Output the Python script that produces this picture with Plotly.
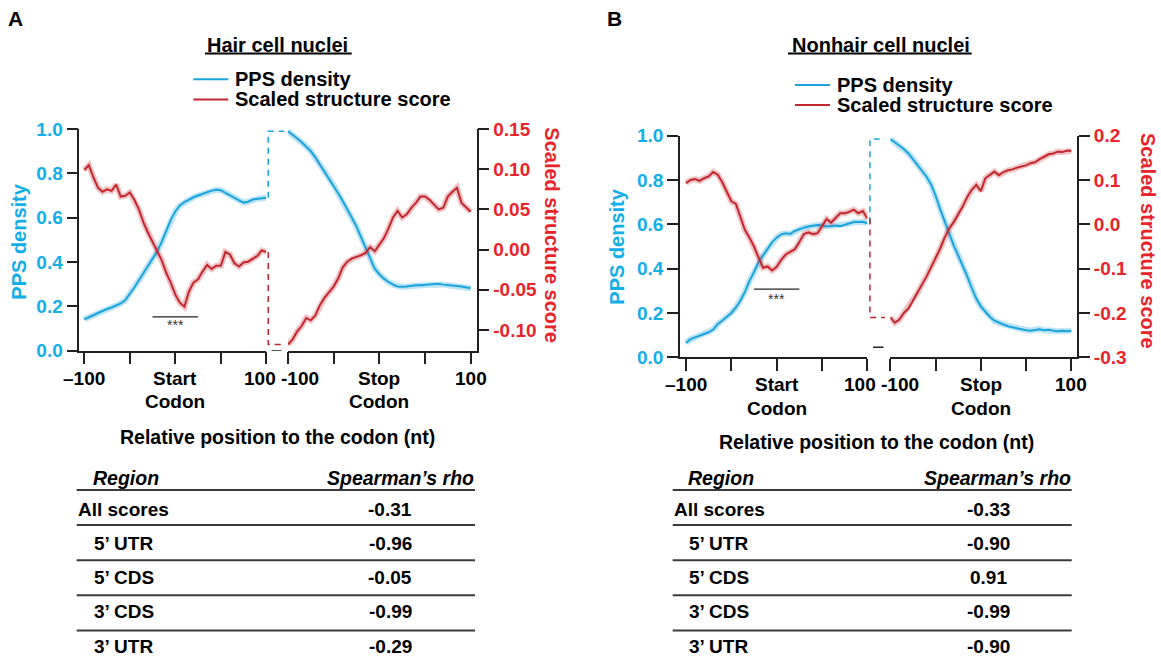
import plotly.graph_objects as go

W, H = 1161, 657
FONT = "Liberation Sans, Arial, Helvetica, sans-serif"
BLUE_LINE = "#1ba3dd"
RED_LINE = "#c4262e"
BLUE_TXT = "#12aee8"
RED_TXT = "#e8232b"
AX = "#231f20"

# ---------------- data ----------------
positions = list(range(-100, 101, 5))

# Panel A - hair cell nuclei
a_start_pps = [0.142, 0.150, 0.160, 0.170, 0.180, 0.188, 0.195, 0.203, 0.213, 0.228, 0.255,
               0.285, 0.318, 0.350, 0.382, 0.412, 0.447, 0.490, 0.540, 0.590, 0.628,
               0.655, 0.670, 0.682, 0.692, 0.700, 0.708, 0.716, 0.722, 0.726, 0.724,
               0.712, 0.700, 0.688, 0.678, 0.668, 0.672, 0.682, 0.685, 0.688, 0.690]
a_start_score = [0.099, 0.105, 0.090, 0.077, 0.072, 0.075, 0.073, 0.081, 0.066, 0.067, 0.071,
                 0.062, 0.050, 0.034, 0.021, 0.009, -0.002, -0.013, -0.029, -0.041, -0.056,
                 -0.066, -0.071, -0.052, -0.041, -0.037, -0.027, -0.019, -0.024, -0.020, -0.020,
                 -0.003, -0.006, -0.017, -0.021, -0.016, -0.015, -0.011, -0.008, -0.001, -0.003]
a_stop_pps = [0.990, 0.975, 0.958, 0.940, 0.922, 0.900, 0.872, 0.840, 0.808, 0.778, 0.745,
              0.710, 0.675, 0.640, 0.600, 0.560, 0.512, 0.460, 0.410, 0.370, 0.345,
              0.325, 0.310, 0.298, 0.290, 0.288, 0.290, 0.293, 0.295, 0.295, 0.296,
              0.298, 0.300, 0.302, 0.298, 0.295, 0.293, 0.292, 0.290, 0.285, 0.282]
a_stop_score = [-0.118, -0.112, -0.102, -0.095, -0.085, -0.088, -0.082, -0.069, -0.060, -0.053, -0.046,
                -0.036, -0.022, -0.015, -0.011, -0.009, -0.007, -0.004, 0.003, -0.002, 0.006,
                0.014, 0.026, 0.040, 0.048, 0.040, 0.044, 0.052, 0.058, 0.066, 0.066,
                0.062, 0.056, 0.050, 0.052, 0.066, 0.072, 0.077, 0.058, 0.052, 0.047]

# Panel B - nonhair cell nuclei
b_start_pps = [0.065, 0.082, 0.090, 0.097, 0.105, 0.113, 0.125, 0.150, 0.165, 0.183, 0.200,
               0.225, 0.255, 0.295, 0.345, 0.385, 0.430, 0.460, 0.490, 0.520, 0.540,
               0.555, 0.560, 0.557, 0.570, 0.578, 0.585, 0.590, 0.592, 0.597, 0.595,
               0.590, 0.592, 0.595, 0.592, 0.598, 0.603, 0.610, 0.610, 0.612, 0.605]
b_start_score = [0.093, 0.100, 0.102, 0.098, 0.104, 0.108, 0.118, 0.112, 0.095, 0.072, 0.052,
                 0.046, 0.016, -0.013, -0.030, -0.050, -0.075, -0.098, -0.095, -0.104, -0.096,
                 -0.080, -0.068, -0.062, -0.056, -0.040, -0.022, -0.018, -0.022, -0.020, -0.005,
                 0.012, 0.004, 0.014, 0.025, 0.025, 0.028, 0.033, 0.025, 0.030, 0.013]
b_stop_pps = [0.985, 0.970, 0.955, 0.940, 0.920, 0.895, 0.870, 0.845, 0.815, 0.780, 0.730,
              0.670, 0.615, 0.560, 0.505, 0.460, 0.415, 0.365, 0.312, 0.265, 0.230,
              0.205, 0.182, 0.165, 0.155, 0.148, 0.140, 0.135, 0.132, 0.128, 0.122,
              0.120, 0.124, 0.127, 0.122, 0.124, 0.120, 0.118, 0.120, 0.118, 0.120]
b_stop_score = [-0.210, -0.222, -0.215, -0.200, -0.190, -0.172, -0.155, -0.136, -0.118, -0.097, -0.077,
                -0.055, -0.030, -0.010, 0.005, 0.022, 0.040, 0.062, 0.078, 0.089, 0.075,
                0.104, 0.112, 0.119, 0.111, 0.118, 0.122, 0.124, 0.128, 0.131, 0.133,
                0.138, 0.140, 0.147, 0.152, 0.158, 0.160, 0.164, 0.163, 0.166, 0.166]

pps_ticks = [0.0, 0.2, 0.4, 0.6, 0.8, 1.0]
a_score_ticks = [-0.10, -0.05, 0.00, 0.05, 0.10, 0.15]
b_score_ticks = [-0.3, -0.2, -0.1, 0.0, 0.1, 0.2]
x_ticks = [-100, -50, 0, 50, 100]
start_labels = ["\u2013100", "Start", "100"]
stop_labels = ["-100", "Stop", "100"]
codon_word = "Codon"

sig_span = [-25, 25]
a_sig = [0.153, 0.116]   # bar level, star level (PPS units)
b_sig = [0.308, 0.262]

regions = ["All scores", "5\u2019 UTR", "5\u2019 CDS", "3\u2019 CDS", "3\u2019 UTR"]
a_rho = [-0.31, -0.96, -0.05, -0.99, -0.29]
b_rho = [-0.33, -0.90, 0.91, -0.99, -0.90]

# ---------------- layout geometry (pixels) ----------------
panels = [
    dict(letter="A", title="Hair cell nuclei", letter_xy=(15, 19),
         start_pps=a_start_pps, start_score=a_start_score, stop_pps=a_stop_pps, stop_score=a_stop_score,
         score_ticks=a_score_ticks, score_fmt="{:.2f}", score_range=[-0.1257, 0.15],
         start_dom=(79.3, 266.3), start_rng=[-105.5, 100], stop_dom=(287.9, 476.7), stop_rng=[-100, 106.6],
         y_dom=(129.0, 350.7), sig=a_sig, gap_x=(0.09, 0.82, 0.72), brk_y=0.0, inner_shift=(-6, 12),
         title_xy=(277.5, 45), underline=(205, 351.7, 53.5),
         leg_line=(193.3, 228.3), leg_text_x=234, leg_y=(79.3, 99.5),
         ylab_l=(19, 241.7), ylab_r=(551.7, 235),
         xlab=(277.5, 436.7), table_x=(76.7, 475), region_x=91.7, indent_x=93.3, val_x=390, rho=a_rho),
    dict(letter="B", title="Nonhair cell nuclei", letter_xy=(614, 19),
         start_pps=b_start_pps, start_score=b_start_score, stop_pps=b_stop_pps, stop_score=b_stop_score,
         score_ticks=b_score_ticks, score_fmt="{:.1f}", score_range=[-0.3, 0.2],
         start_dom=(680.0, 867.4), start_rng=[-106.6, 100], stop_dom=(890.3, 1077.3), stop_rng=[-100, 106.6],
         y_dom=(135.7, 357.3), sig=b_sig, gap_x=(0.11, 0.77, 0.77), brk_y=0.045, inner_shift=(-7, 10),
         title_xy=(881, 45), underline=(788, 971.7, 53.5),
         leg_line=(795, 830), leg_text_x=836, leg_y=(85, 105),
         ylab_l=(617, 246.7), ylab_r=(1148.7, 240.7),
         xlab=(876.7, 441.7), table_x=(672.7, 1071.7), region_x=686.7, indent_x=688.3, val_x=988.3, rho=b_rho),
]


def fx(px):
    return px / W


def fy(py):
    return 1 - py / H


def xn(i):
    return "xaxis" if i == 1 else f"xaxis{i}"


def yn(i):
    return "yaxis" if i == 1 else f"yaxis{i}"


def xr(i):
    return "x" if i == 1 else f"x{i}"


def yr(i):
    return "y" if i == 1 else f"y{i}"


fig = go.Figure()
layout = {}
shapes = []
annotations = []

tick_font_b = dict(family=FONT, size=19, color=BLUE_TXT, weight="bold")
tick_font_r = dict(family=FONT, size=19, color=RED_TXT, weight="bold")


def ann(text, x, y, size=20, color="black", xanchor="center", yanchor="middle", angle=0, weight="bold",
        style="normal"):
    annotations.append(dict(text=text, x=fx(x), y=fy(y), xref="paper", yref="paper", showarrow=False,
                            xanchor=xanchor, yanchor=yanchor, textangle=angle, borderpad=0,
                            font=dict(family=FONT, size=size, color=color, weight=weight, style=style)))


def add_line(xaxis, yaxis, xs, ys, color, band=None, width=2.0, dash=None):
    if band:
        fig.add_trace(go.Scatter(x=xs, y=ys, xaxis=xaxis, yaxis=yaxis, mode="lines",
                                 line=dict(color=band, width=6), hoverinfo="skip", showlegend=False))
    fig.add_trace(go.Scatter(x=xs, y=ys, xaxis=xaxis, yaxis=yaxis, mode="lines",
                             line=dict(color=color, width=width, dash=dash), hoverinfo="skip", showlegend=False))


def x_label(text, xaxis, xval, py, shift=0):
    annotations.append(dict(text=text, x=xval, y=fy(py), xref=xaxis, yref="paper", showarrow=False,
                            xanchor="center", yanchor="middle", xshift=shift,
                            font=dict(family=FONT, size=19, color="black", weight="bold")))


for p, cfg in enumerate(panels):
    xo, yo = 3 * p, 6 * p
    xs_i, xe_i, xg_i = xo + 1, xo + 2, xo + 3
    ybs, yrs, ybe, yre, ybg, yrg = [yo + k for k in range(1, 7)]
    ydom = [fy(cfg["y_dom"][1]), fy(cfg["y_dom"][0])]
    common_x = dict(showline=True, linecolor=AX, linewidth=1.5, ticks="outside", ticklen=12, tickwidth=1.5,
                    tickcolor=AX, tickvals=x_ticks, showticklabels=False, showgrid=False, zeroline=False,
                    fixedrange=True, automargin=False)
    layout[xn(xs_i)] = dict(common_x, domain=[fx(cfg["start_dom"][0]), fx(cfg["start_dom"][1])],
                            range=cfg["start_rng"], anchor=yr(ybs))
    layout[xn(xe_i)] = dict(common_x, domain=[fx(cfg["stop_dom"][0]), fx(cfg["stop_dom"][1])],
                            range=cfg["stop_rng"], anchor=yr(ybe))
    layout[xn(xg_i)] = dict(domain=[fx(cfg["start_dom"][1]), fx(cfg["stop_dom"][0])], range=[0, 1],
                            anchor=yr(ybg), visible=False, fixedrange=True, automargin=False)

    layout[yn(ybs)] = dict(domain=ydom, range=[0, 1], anchor=xr(xs_i), side="left", showline=True,
                           linecolor=AX, linewidth=1.5, ticks="outside", ticklen=11, tickwidth=1.5, tickcolor=AX,
                           tickvals=pps_ticks, ticktext=[f"{v:.1f}" for v in pps_ticks], tickfont=tick_font_b,
                           showgrid=False, zeroline=False, fixedrange=True, automargin=False)
    layout[yn(yrs)] = dict(range=cfg["score_range"], overlaying=yr(ybs), anchor=xr(xs_i), visible=False,
                           fixedrange=True, automargin=False)
    layout[yn(ybe)] = dict(domain=ydom, range=[0, 1], anchor=xr(xe_i), visible=False, fixedrange=True,
                           automargin=False)
    layout[yn(yre)] = dict(range=cfg["score_range"], overlaying=yr(ybe), anchor=xr(xe_i), side="right",
                           showline=True, linecolor=AX, linewidth=1.5, ticks="outside", ticklen=11,
                           tickwidth=1.5, tickcolor=AX, tickvals=cfg["score_ticks"],
                           ticktext=[cfg["score_fmt"].format(v) for v in cfg["score_ticks"]],
                           tickfont=tick_font_r, showgrid=False, zeroline=False, fixedrange=True,
                           automargin=False)
    layout[yn(ybg)] = dict(domain=ydom, range=[0, 1], anchor=xr(xg_i), visible=False, fixedrange=True,
                           automargin=False)
    layout[yn(yrg)] = dict(range=cfg["score_range"], overlaying=yr(ybg), anchor=xr(xg_i), visible=False,
                           fixedrange=True, automargin=False)

    # curves
    add_line(xr(xs_i), yr(ybs), positions, cfg["start_pps"], BLUE_LINE, "rgba(27,163,221,0.30)")
    add_line(xr(xs_i), yr(yrs), positions, cfg["start_score"], RED_LINE, "rgba(196,38,46,0.28)")
    add_line(xr(xe_i), yr(ybe), positions, cfg["stop_pps"], BLUE_LINE, "rgba(27,163,221,0.30)")
    add_line(xr(xe_i), yr(yre), positions, cfg["stop_score"], RED_LINE, "rgba(196,38,46,0.28)")

    # dashed connectors across the axis break
    gx0, gxb, gxr = cfg["gap_x"]
    add_line(xr(xg_i), yr(ybg), [gx0, gx0, gxb],
             [cfg["start_pps"][-1], cfg["stop_pps"][0], cfg["stop_pps"][0]], BLUE_LINE, width=1.5, dash="6px,5px")
    add_line(xr(xg_i), yr(yrg), [gx0, gx0, gxr],
             [cfg["start_score"][-1], cfg["stop_score"][0], cfg["stop_score"][0]], RED_LINE, width=1.5,
             dash="6px,5px")
    add_line(xr(xg_i), yr(ybg), [0.25, 0.7], [cfg["brk_y"], cfg["brk_y"]], AX, width=1.5)

    # significance bar
    add_line(xr(xs_i), yr(ybs), sig_span, [cfg["sig"][0], cfg["sig"][0]], "#222222", width=1.3)
    annotations.append(dict(text="***", x=0, y=cfg["sig"][1], xref=xr(xs_i), yref=yr(ybs), showarrow=False,
                            font=dict(family=FONT, size=14, color="#333333")))

    # x tick labels (inner labels nudged apart as in the original)
    row1 = cfg["y_dom"][1] + 27.3
    row2 = cfg["y_dom"][1] + 51.0
    sh_in_l, sh_in_r = cfg["inner_shift"]
    x_label(start_labels[0], xr(xs_i), x_ticks[0], row1)
    x_label(start_labels[1], xr(xs_i), x_ticks[2], row1)
    x_label(codon_word, xr(xs_i), x_ticks[2], row2)
    x_label(start_labels[2], xr(xs_i), x_ticks[4], row1, sh_in_l)
    x_label(stop_labels[0], xr(xe_i), x_ticks[0], row1, sh_in_r)
    x_label(stop_labels[1], xr(xe_i), x_ticks[2], row1)
    x_label(codon_word, xr(xe_i), x_ticks[2], row2)
    x_label(stop_labels[2], xr(xe_i), x_ticks[4], row1)

    # texts
    ann(cfg["letter"], *cfg["letter_xy"], size=21)
    ann(cfg["title"], *cfg["title_xy"], size=20)
    u0, u1, uy = cfg["underline"]
    shapes.append(dict(type="line", xref="paper", yref="paper", x0=fx(u0), x1=fx(u1), y0=fy(uy), y1=fy(uy),
                       line=dict(color="black", width=2)))
    l0, l1 = cfg["leg_line"]
    for yy, col, lab in [(cfg["leg_y"][0], BLUE_LINE, "PPS density"),
                         (cfg["leg_y"][1], RED_LINE, "Scaled structure score")]:
        shapes.append(dict(type="line", xref="paper", yref="paper", x0=fx(l0), x1=fx(l1), y0=fy(yy), y1=fy(yy),
                           line=dict(color=col, width=2)))
        ann(lab, cfg["leg_text_x"], yy, size=20, xanchor="left")
    ann("PPS density", *cfg["ylab_l"], size=20, color=BLUE_TXT, angle=-90)
    ann("Scaled structure score", *cfg["ylab_r"], size=20, color=RED_TXT, angle=90)
    ann("Relative position to the codon (nt)", *cfg["xlab"], size=19.5)

    # table
    t0, t1 = cfg["table_x"]
    ann("Region", cfg["region_x"], 478.3, size=19.5, xanchor="left", style="italic")
    ann("Spearman\u2019s rho", t1, 478.3, size=19.5, xanchor="right", style="italic")
    for i, (reg, val) in enumerate(zip(regions, cfg["rho"])):
        ly = 490 + 35.1 * i
        shapes.append(dict(type="line", xref="paper", yref="paper", x0=fx(t0), x1=fx(t1), y0=fy(ly), y1=fy(ly),
                           line=dict(color="#3a3a3a", width=2)))
        ry = 509.3 + 34.2 * i
        ann(reg, t0 if i == 0 else cfg["indent_x"], ry, size=19, xanchor="left")
        ann(f"{val:.2f}", cfg["val_x"], ry, size=19)

fig.update_layout(layout)
fig.update_layout(width=W, height=H, margin=dict(l=0, r=0, t=0, b=0, pad=0, autoexpand=False),
                  paper_bgcolor="white", plot_bgcolor="rgba(0,0,0,0)", showlegend=False, shapes=shapes,
                  annotations=annotations, font=dict(family=FONT))
fig.write_html("out.html", config={"displayModeBar": False},
               post_script="document.body.style.margin='0px';document.body.style.overflow='hidden';")
